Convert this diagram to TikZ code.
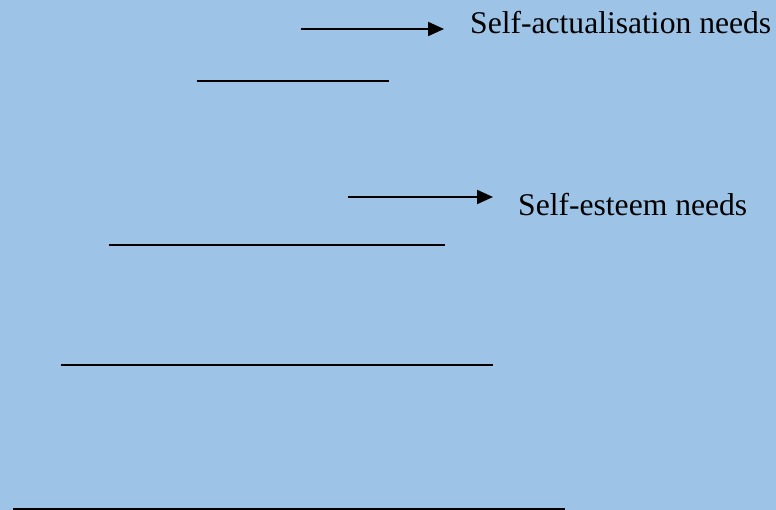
\documentclass[tikz,border=0pt]{standalone}
\usepackage{fontspec}
\setmainfont{Liberation Serif}
\usetikzlibrary{arrows.meta}
\definecolor{bgblue}{RGB}{157,195,230}
\tikzset{
  level/.style={line width=2bp, black},
  pointer/.style={line width=2bp, black, -{Triangle[length=16bp,width=14bp]}},
  label/.style={anchor=base west, inner sep=0pt, font=\fontsize{31.6bp}{38bp}\selectfont}
}
\begin{document}
\begin{tikzpicture}[x=1bp,y=-1bp]
\fill[bgblue] (0,0) rectangle (776,510);
\useasboundingbox (0,0) rectangle (776,510);
% level lines
\coordinate (l1a) at (197,81);  \coordinate (l1b) at (389,81);
\coordinate (l2a) at (109,245); \coordinate (l2b) at (445,245);
\coordinate (l3a) at (61,365);  \coordinate (l3b) at (493,365);
\coordinate (l4a) at (13,509);  \coordinate (l4b) at (565,509);
\draw[level] (l1a) -- (l1b);
\draw[level] (l2a) -- (l2b);
\draw[level] (l3a) -- (l3b);
\draw[level] (l4a) -- (l4b);
% labels
\node[label] (sa) at (470,33.5) {Self-actualisation needs};
\node[label] (se) at (518,216) {Self-esteem needs};
% arrows
\coordinate (a1s) at (301,29); \coordinate (a1e) at (444,29);
\coordinate (a2s) at (348,197); \coordinate (a2e) at (493,197);
\draw[pointer] (a1s) -- (a1e);
\draw[pointer] (a2s) -- (a2e);
\end{tikzpicture}
\end{document}
